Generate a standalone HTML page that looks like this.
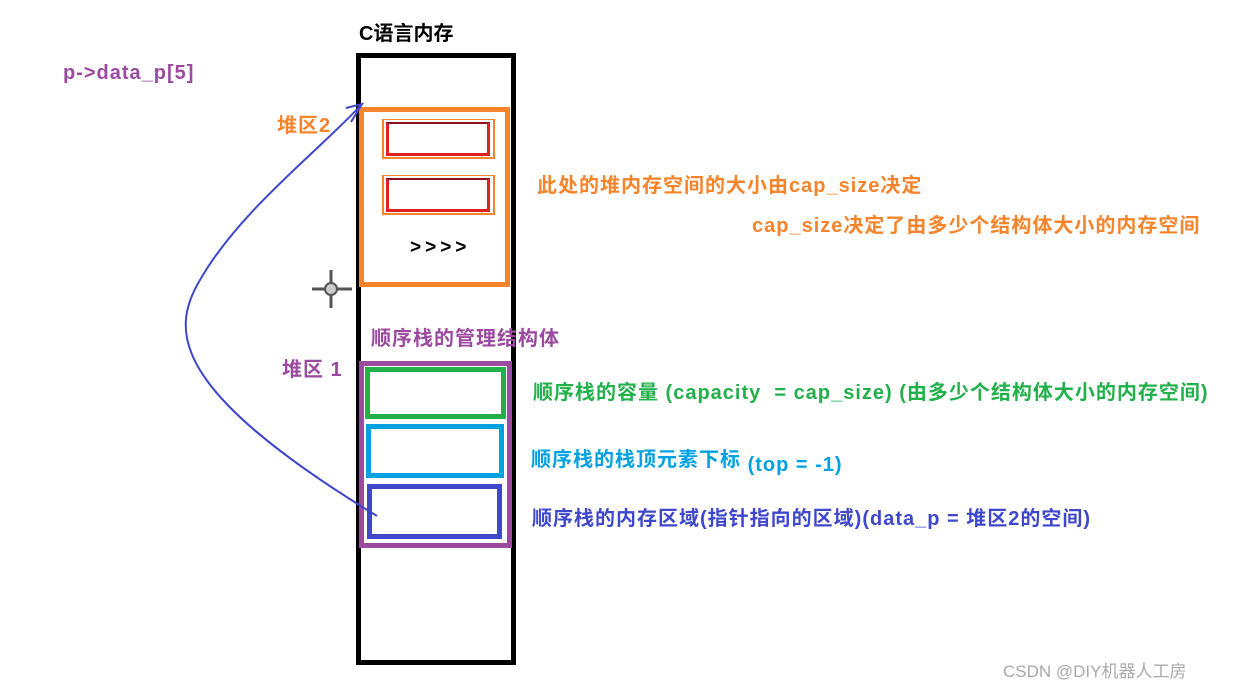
<!DOCTYPE html>
<html><head><meta charset="utf-8"><style>
body{margin:0;width:1256px;height:690px;background:#fff;position:relative;overflow:hidden;font-family:"Liberation Sans","Noto Sans CJK SC",sans-serif;font-weight:bold}
.t{position:absolute;white-space:nowrap;font-size:20px;letter-spacing:1px}
.b{position:absolute;box-sizing:border-box}
</style></head><body>
<div class="t" style="left:359px;top:17px;font-size:20px;color:#000;letter-spacing:0">C语言内存</div>
<div class="t" style="left:63px;top:62px;color:#9b4aa0">p->data_p[5]</div>
<div class="b" style="left:356px;top:53px;width:160px;height:612px;border:5px solid #000"></div>
<div class="b" style="left:359px;top:107px;width:151px;height:180px;border:5px solid #f7842a"></div>
<div class="b" style="left:382px;top:119px;width:113px;height:40px;border:2px solid #f7842a;border-top-width:1px"><div class="b" style="left:2px;top:2px;width:104px;height:34px;border:3px solid #e02020;border-top:2px solid #8b1020"></div></div>
<div class="b" style="left:382px;top:175px;width:113px;height:40px;border:2px solid #f7842a;border-top-width:1px"><div class="b" style="left:2px;top:2px;width:104px;height:34px;border:3px solid #e02020;border-top:2px solid #8b1020"></div></div>
<div class="t" style="left:410px;top:237px;color:#000;letter-spacing:4px;font-size:19px">&gt;&gt;&gt;&gt;</div>
<div class="t" style="left:277px;top:109px;color:#f7842a">堆区2</div>
<div class="t" style="left:537px;top:169px;color:#f7842a">此处的堆内存空间的大小由cap_size决定</div>
<div class="t" style="left:752px;top:209px;color:#f7842a">cap_size决定了由多少个结构体大小的内存空间</div>
<div class="t" style="left:371px;top:322px;color:#9b4aa0">顺序栈的管理结构体</div>
<div class="t" style="left:282px;top:353px;color:#9b4aa0">堆区 1</div>
<div class="b" style="left:359px;top:361px;width:153px;height:187px;border:5px solid #9b4aa0"></div>
<div class="b" style="left:365px;top:367px;width:141px;height:52px;border:5px solid #22b04b"></div>
<div class="b" style="left:366px;top:424px;width:138px;height:54px;border:5px solid #00a1e0"></div>
<div class="b" style="left:367px;top:484px;width:135px;height:55px;border:5px solid #3f48cc"></div>
<div class="t" style="left:533px;top:376px;color:#22b04b">顺序栈的容量 (capacity &nbsp;= cap_size) (由多少个结构体大小的内存空间)</div>
<div class="t" style="left:531px;top:443px;color:#00a1e0">顺序栈的栈顶元素下标 <span style="position:relative;top:5px">(top = -1)</span></div>
<div class="t" style="left:532px;top:502px;color:#3f48cc">顺序栈的内存区域(指针指向的区域)(data_p = 堆区2的空间)</div>
<svg width="1256" height="690" style="position:absolute;left:0;top:0">
<path d="M377,516 C 170,390 170,330 200,280 C 240,210 320,150 362,104" fill="none" stroke="#3f48cc" stroke-width="2"/>
<path d="M346,108 L362,104 L351,122" fill="none" stroke="#3f48cc" stroke-width="2"/>
<g stroke="#555" stroke-width="3"><line x1="331" y1="270" x2="331" y2="308"/><line x1="312" y1="289" x2="352" y2="289"/></g>
<circle cx="331" cy="289" r="6" fill="#ccc" stroke="#555" stroke-width="2"/>
</svg>
<div class="t" style="left:1003px;top:657px;font-weight:normal;color:#aaa;font-size:17px;letter-spacing:0">CSDN @DIY机器人工房</div>
</body></html>
